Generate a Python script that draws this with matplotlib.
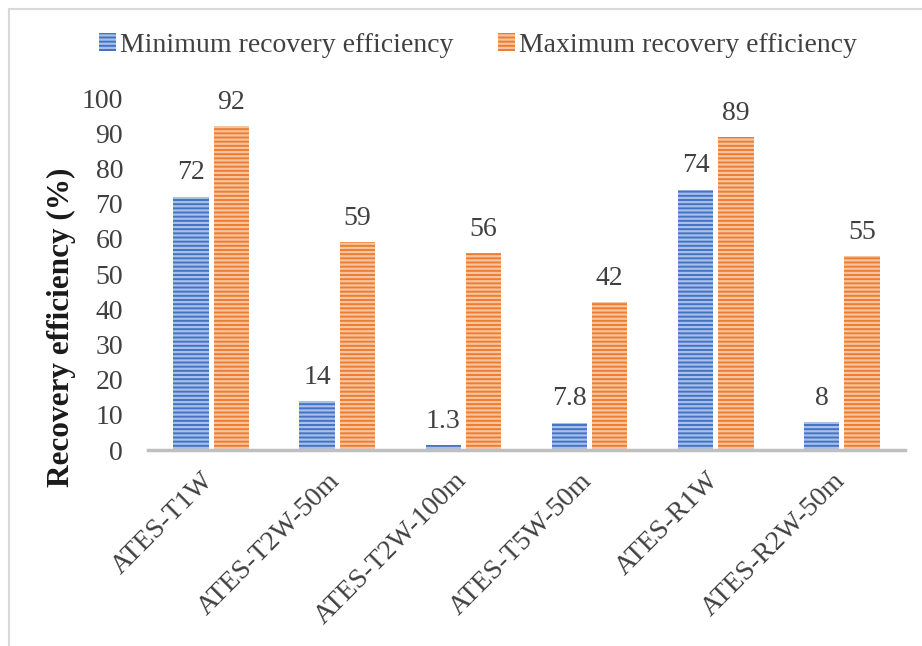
import matplotlib
matplotlib.use("Agg")
import matplotlib.pyplot as plt
import matplotlib.transforms as mtransforms
from matplotlib.lines import Line2D
import numpy as np

categories = ["ATES-T1W", "ATES-T2W-50m", "ATES-T2W-100m", "ATES-T5W-50m", "ATES-R1W", "ATES-R2W-50m"]
min_eff = [72, 14, 1.3, 7.8, 74, 8]
max_eff = [92, 59, 56, 42, 89, 55]
min_labels = ["72", "14", "1.3", "7.8", "74", "8"]
max_labels = ["92", "59", "56", "42", "89", "55"]
y_ticks = [0, 10, 20, 30, 40, 50, 60, 70, 80, 90, 100]

plt.rcParams["font.family"] = ["Liberation Serif", "DejaVu Serif"]
plt.rcParams["hatch.linewidth"] = 1.6

BLUE = "#4472C4"
BLUE_STRIPE = "#a8bfe8"
ORANGE = "#ED7D31"
ORANGE_STRIPE = "#f7c4a0"
TEXT = "#404040"
FS = 20

fig = plt.figure(figsize=(9.22, 6.46), dpi=100)
ax = fig.add_axes([148 / 922, 1 - 450 / 646, 757 / 922, 352 / 646])

x = np.arange(len(categories))
w = 0.28
b1 = ax.bar(x - 0.16, min_eff, w, color=BLUE, edgecolor=BLUE_STRIPE, linewidth=0,
            hatch="----", label="Minimum recovery efficiency")
b2 = ax.bar(x + 0.16, max_eff, w, color=ORANGE, edgecolor=ORANGE_STRIPE, linewidth=0,
            hatch="----", label="Maximum recovery efficiency")

for bars, labels in ((b1, min_labels), (b2, max_labels)):
    for rect, lab in zip(bars, labels):
        ax.annotate(lab, (rect.get_x() + rect.get_width() / 2, rect.get_height()),
                    xytext=(0, 8), textcoords="offset points", ha="center", va="bottom",
                    fontsize=FS, color=TEXT, annotation_clip=False)

ax.set_xlim(-0.5, len(categories) - 0.5)
ax.set_ylim(0, 100)
ax.set_yticks(y_ticks)
ax.set_xticks(x)
ax.set_xticklabels(categories, rotation=45, ha="right", va="top", rotation_mode="anchor")
ax.tick_params(axis="both", length=0, labelsize=FS, labelcolor=TEXT)
ax.tick_params(axis="y", pad=18)
ax.tick_params(axis="x", pad=13)

# nudge the rotated category labels slightly to the left
shift = mtransforms.ScaledTranslation(-7 / 72, 0, fig.dpi_scale_trans)
for lab in ax.get_xticklabels():
    lab.set_transform(lab.get_transform() + shift)

for side in ("top", "right", "left"):
    ax.spines[side].set_visible(False)
ax.spines["bottom"].set_color("#bfbfbf")
ax.spines["bottom"].set_linewidth(2.5)

fig.text(61 / 922, 1 - 327 / 646, "Recovery efficiency (%)", rotation=90,
         ha="center", va="center", fontsize=22.5, fontweight="bold", color="#1a1a1a")

fig.legend(handles=[b1, b2], loc="center", bbox_to_anchor=(478 / 922, 1 - 45 / 646),
           ncol=2, frameon=False, fontsize=FS, handlelength=0.6, handleheight=0.6,
           handletextpad=0.15, columnspacing=1.6, labelcolor=TEXT)

# outer frame lines
fig.add_artist(Line2D([9 / 922, 1], [1 - 9 / 646, 1 - 9 / 646], color="#d9d9d9", linewidth=1.5,
                      transform=fig.transFigure))
fig.add_artist(Line2D([9 / 922, 9 / 922], [0, 1 - 9 / 646], color="#d9d9d9", linewidth=1.5,
                      transform=fig.transFigure))

fig.savefig("out.png", dpi=100)
